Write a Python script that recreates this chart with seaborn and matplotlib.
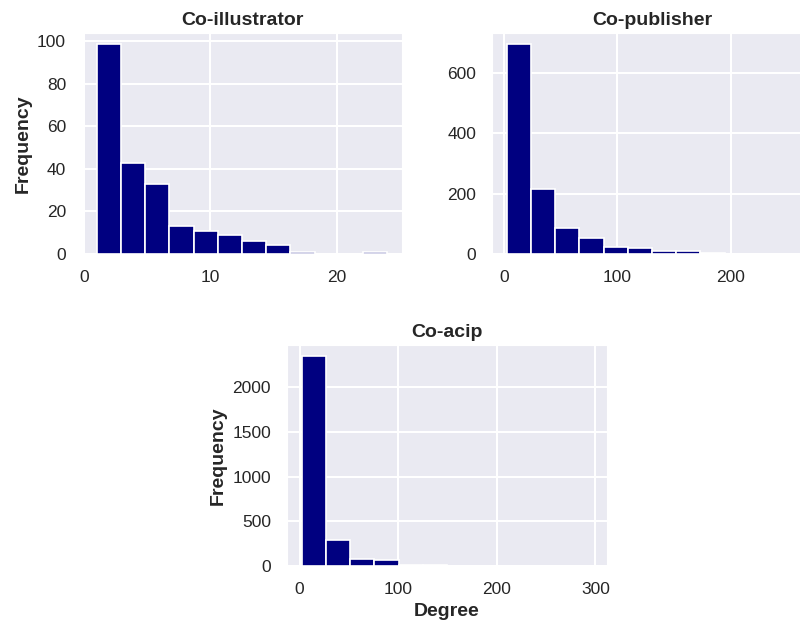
import numpy as np
import pandas as pd
import matplotlib
matplotlib.use('Agg')
import matplotlib.pyplot as plt
import seaborn as sns

# bin ranges (min / max degree) and counts per bin
illus_range = (1, 24)
illus_counts = [99, 43, 33, 13, 11, 9, 6, 4, 1, 0, 0, 1]
illus_xticks = [0, 10, 20]

pub_range = (2, 259)
pub_counts = [698, 217, 85, 53, 24, 20, 9, 9, 2, 0, 0, 1]
pub_xticks = [0, 100, 200]

acip_range = (2, 297)
acip_counts = [2352, 289, 74, 63, 15, 8, 3, 2, 1, 1, 0, 1]
acip_xticks = [0, 100, 200, 300]

titles = ['Co-illustrator', 'Co-publisher', 'Co-acip']

sns.set_style('darkgrid', {'grid.linewidth': 1.5})
plt.rcParams['font.family'] = ['Liberation Sans', 'DejaVu Sans']

fig = plt.figure(figsize=(8, 6.24), dpi=100)
W, H = 800, 624


def box(left, top, w=320, h=221):
    return [left / W, (H - top - h) / H, w / W, h / H]


ax1 = fig.add_axes(box(82, 33))
ax2 = fig.add_axes(box(492, 33))
ax3 = fig.add_axes(box(287, 345))


def draw(ax, rng, counts, xticks, title):
    edges = np.linspace(rng[0], rng[1], len(counts) + 1)
    df = pd.DataFrame({'degree': (edges[:-1] + edges[1:]) / 2, 'count': counts})
    sns.histplot(data=df, x='degree', weights='count', bins=len(counts),
                 binrange=rng, color='navy', edgecolor='white',
                 linewidth=1.2, alpha=1, ax=ax)
    ax.set_xticks(xticks)
    ax.set_title(title, fontsize=14, fontweight='bold')
    ax.set_ylabel('')
    ax.set_xlabel('')
    ax.grid(linewidth=1.5)
    ax.tick_params(labelsize=12.5, colors='.15', pad=8)


draw(ax1, illus_range, illus_counts, illus_xticks, titles[0])
draw(ax2, pub_range, pub_counts, pub_xticks, titles[1])
draw(ax3, acip_range, acip_counts, acip_xticks, titles[2])

ax1.set_ylabel('Frequency', fontsize=14, fontweight='bold')
ax3.set_ylabel('Frequency', fontsize=14, fontweight='bold')
ax3.set_xlabel('Degree', fontsize=14, fontweight='bold')

plt.savefig('out.png', dpi=100)
